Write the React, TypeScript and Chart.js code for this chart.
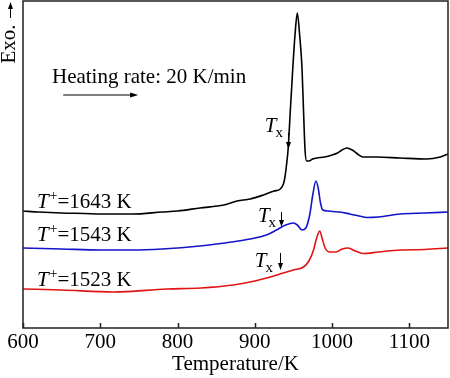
import React, { useEffect, useRef } from 'react';
import { Chart, registerables } from 'chart.js';

Chart.register(...registerables);

// Sample at T+ = 1643 K (black)
const temps1643 = [600, 620, 650, 680, 700, 742, 780, 800, 829, 860, 877, 894, 911, 925, 933, 937, 939, 941, 943, 946, 949, 952, 955, 958, 961, 963, 965, 967, 970, 975, 980, 990, 1000, 1007, 1013, 1019, 1026, 1033, 1040, 1058, 1088, 1122, 1140, 1150];
const exo1643 = [117, 116, 115, 114.5, 114, 114, 116, 117, 120, 123, 127, 129, 133, 137, 139, 144, 151, 163, 178, 218, 258, 293, 315, 293, 261, 218, 178, 167, 167, 169, 170, 171, 173, 175, 178, 180, 178, 174, 171, 171, 170, 169, 171, 174];

// Sample at T+ = 1543 K (blue)
const temps1543 = [600, 650, 700, 742, 780, 829, 870, 894, 915, 928, 940, 950, 955, 961, 966, 971, 975, 979, 982, 985, 988, 995, 1001, 1010, 1023, 1035, 1045, 1060, 1088, 1120, 1150];
const exo1543 = [80, 79, 78, 78, 79, 82, 86, 89, 93, 98, 103, 105, 103, 98, 100, 113, 133, 147, 140, 125, 118, 117, 116.5, 116, 114, 112, 110.5, 111, 114, 115, 116];

// Sample at T+ = 1523 K (red)
const temps1523 = [600, 650, 717, 786, 830, 872, 900, 920, 937, 950, 963, 970, 976, 980, 984, 987, 991, 997, 1005, 1013, 1021, 1030, 1040, 1060, 1088, 1120, 1150];
const exo1523 = [39, 38, 36, 39, 40, 43, 47, 51, 55, 58, 61, 67, 78, 90, 97, 90, 80, 76, 76, 79, 80, 77, 74.5, 76, 78, 78.5, 80];

const xTicks = [600, 700, 800, 900, 1000, 1100];
const seriesNames = ['1643', '1543', '1523'];
const seriesColors = ['#000000', '#1414c8', '#e01414'];
// label anchors [T, exo] for "T+=... K"
const seriesLabelPos = [[618, 120], [618, 87], [618, 42]];
// Tx annotation: text anchor [T, exo], arrow [T, exoTop, exoBottom]
const txTextPos = [[913, 196], [904, 106], [900, 61]];
const txArrowPos = [[942.6, 195, 179], [934, 116, 101], [932.6, 75, 58]];

const SERIF = '"Liberation Serif", "Times New Roman", serif';
const FS = 21;

function toPoints(xs: number[], ys: number[]) {
  return xs.map((x, i) => ({ x, y: ys[i] }));
}

function arrowHead(ctx: CanvasRenderingContext2D, x: number, y: number, dir: 'up' | 'down' | 'right') {
  ctx.beginPath();
  if (dir === 'down') {
    ctx.moveTo(x, y);
    ctx.lineTo(x - 2.5, y - 7);
    ctx.lineTo(x + 2.5, y - 7);
  } else if (dir === 'up') {
    ctx.moveTo(x, y);
    ctx.lineTo(x - 2.5, y + 7);
    ctx.lineTo(x + 2.5, y + 7);
  } else {
    ctx.moveTo(x, y);
    ctx.lineTo(x - 8, y - 2.5);
    ctx.lineTo(x - 8, y + 2.5);
  }
  ctx.closePath();
  ctx.fill();
}

const overlay = {
  id: 'overlay',
  afterDraw(chart: any) {
    const { ctx, chartArea: a, scales } = chart;
    const xs = scales.x;
    const ys = scales.y;
    ctx.save();
    // frame
    ctx.strokeStyle = '#222';
    ctx.lineWidth = 1.5;
    ctx.strokeRect(a.left, a.top, a.right - a.left, a.bottom - a.top);
    // inward ticks
    ctx.beginPath();
    for (const t of xTicks) {
      const px = Math.round(xs.getPixelForValue(t)) + 0.5;
      ctx.moveTo(px, a.bottom);
      ctx.lineTo(px, a.bottom - 5);
    }
    ctx.stroke();

    ctx.fillStyle = '#000';
    ctx.strokeStyle = '#000';
    ctx.textBaseline = 'alphabetic';
    ctx.textAlign = 'left';

    // Heating rate
    ctx.font = `${FS}px ${SERIF}`;
    ctx.fillText('Heating rate: 20 K/min', xs.getPixelForValue(637.5), ys.getPixelForValue(245));
    const ay = ys.getPixelForValue(233);
    const ax1 = xs.getPixelForValue(652);
    const ax2 = xs.getPixelForValue(749);
    ctx.lineWidth = 1.2;
    ctx.beginPath();
    ctx.moveTo(ax1, ay);
    ctx.lineTo(ax2 - 6, ay);
    ctx.stroke();
    arrowHead(ctx, ax2, ay, 'right');

    // series labels
    seriesNames.forEach((name, i) => {
      const px = xs.getPixelForValue(seriesLabelPos[i][0]);
      const py = ys.getPixelForValue(seriesLabelPos[i][1]);
      ctx.font = `italic ${FS}px ${SERIF}`;
      ctx.fillText('T', px, py);
      let w = ctx.measureText('T').width;
      ctx.font = `14px ${SERIF}`;
      ctx.fillText('+', px + w + 1, py - 8);
      w += ctx.measureText('+').width + 1;
      ctx.font = `${FS}px ${SERIF}`;
      ctx.fillText(`=${name} K`, px + w, py);
    });

    // Tx annotations
    txTextPos.forEach((p, i) => {
      const px = xs.getPixelForValue(p[0]);
      const py = ys.getPixelForValue(p[1]);
      ctx.font = `italic ${FS}px ${SERIF}`;
      ctx.fillText('T', px, py);
      const w = ctx.measureText('T').width;
      ctx.font = `15px ${SERIF}`;
      ctx.fillText('x', px + w - 1, py + 5);
      const ar = txArrowPos[i];
      const axp = Math.round(xs.getPixelForValue(ar[0])) + 0.5;
      const y1 = ys.getPixelForValue(ar[1]);
      const y2 = ys.getPixelForValue(ar[2]);
      ctx.lineWidth = 1;
      ctx.beginPath();
      ctx.moveTo(axp, y1);
      ctx.lineTo(axp, y2 - 5);
      ctx.stroke();
      arrowHead(ctx, axp, y2, 'down');
    });

    // Exo. label with arrow
    ctx.save();
    ctx.translate(15, 44);
    ctx.rotate(-Math.PI / 2);
    ctx.font = `${FS}px ${SERIF}`;
    ctx.textAlign = 'center';
    ctx.fillText('Exo.', 0, 0);
    ctx.restore();
    ctx.lineWidth = 1;
    ctx.beginPath();
    ctx.moveTo(10.5, 18);
    ctx.lineTo(10.5, 6);
    ctx.stroke();
    arrowHead(ctx, 10.5, 2, 'up');

    ctx.restore();
  },
};

export default function App() {
  const ref = useRef<HTMLCanvasElement>(null);
  useEffect(() => {
    const canvas = ref.current;
    if (!canvas) return;
    const mk = (xs: number[], ys: number[], color: string) => ({
      data: toPoints(xs, ys),
      borderColor: color,
      backgroundColor: color,
      borderWidth: 1.6,
      pointRadius: 0,
      cubicInterpolationMode: 'monotone' as const,
      fill: false,
    });
    const chart = new Chart(canvas, {
      type: 'line',
      data: {
        datasets: [
          mk(temps1643, exo1643, seriesColors[0]),
          mk(temps1543, exo1543, seriesColors[1]),
          mk(temps1523, exo1523, seriesColors[2]),
        ],
      },
      options: {
        responsive: false,
        animation: false,
        devicePixelRatio: 1,
        layout: { padding: { left: 23, top: 1, right: 2, bottom: 0 } },
        plugins: { legend: { display: false }, tooltip: { enabled: false } },
        scales: {
          x: {
            type: 'linear',
            min: 600,
            max: 1150,
            afterBuildTicks: (scale: any) => {
              scale.ticks = xTicks.map((v) => ({ value: v }));
            },
            afterFit: (scale: any) => {
              scale.height = 50;
            },
            grid: { display: false, drawTicks: false },
            border: { display: false },
            ticks: {
              padding: 2,
              color: '#000',
              maxRotation: 0,
              autoSkip: false,
              font: { family: SERIF, size: FS },
              callback: (v: any) => String(v),
            },
            title: {
              display: true,
              text: 'Temperature/K',
              color: '#000',
              padding: { top: 0, bottom: 1 },
              font: { family: SERIF, size: FS },
            },
          },
          y: {
            type: 'linear',
            display: false,
            min: 0,
            max: 327,
          },
        },
      },
      plugins: [overlay],
    });
    return () => chart.destroy();
  }, []);
  return (
    <div style={{ position: 'absolute', left: 0, top: 0, width: 450, height: 378, background: '#fff' }}>
      <canvas ref={ref} width={450} height={378} />
    </div>
  );
}
